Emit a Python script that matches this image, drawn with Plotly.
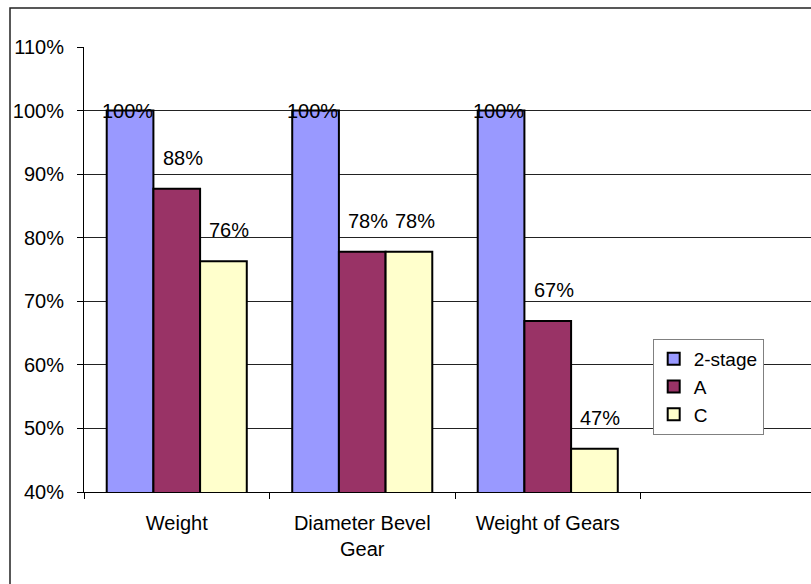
import plotly.graph_objects as go

categories = ["Weight", "Diameter Bevel<br>Gear", "Weight of Gears"]
series_names = ["2-stage", "A", "C"]
two_stage = [1.00, 1.00, 1.00]
a_vals = [0.877, 0.778, 0.669]
c_vals = [0.763, 0.778, 0.468]
colors = ["#9999FF", "#993366", "#FFFFCC"]
y_ticks = [0.4, 0.5, 0.6, 0.7, 0.8, 0.9, 1.0, 1.1]

all_series = [two_stage, a_vals, c_vals]

W, H = 811, 584
ml, mt, mb = 84, 47, 92
plot_w = W - ml
cat_px = 185.5
bargap = 0.245
font = "Liberation Sans, Arial, sans-serif"

fig = go.Figure()
for name, vals, col in zip(series_names, all_series, colors):
    fig.add_trace(go.Bar(
        x=categories, y=vals, name=name,
        marker=dict(color=col, line=dict(color="black", width=2)),
        hoverinfo="skip",
    ))

bw = (1 - bargap) / 3
annotations = []
for j, vals in enumerate(all_series):
    for i, v in enumerate(vals):
        top = v >= 0.995
        annotations.append(dict(
            x=i + (j - 1) * bw, y=v, xref="x", yref="y",
            text=f"{round(v * 100)}%", showarrow=False,
            yanchor="middle", xanchor="center",
            yshift=0 if top else 31, xshift=-3 if top else 6,
            font=dict(family=font, size=20, color="black"),
        ))

plot_h = H - mt - mb
shapes = [dict(
    type="path", xref="paper", yref="paper",
    path=f"M {(10 - ml) / plot_w},-0.5 L {(10 - ml) / plot_w},{(plot_h + mt - 8) / plot_h} L 1.2,{(plot_h + mt - 8) / plot_h}",
    line=dict(color="#222222", width=1.5),
)]

fig.update_layout(
    width=W, height=H,
    margin=dict(l=ml, r=0, t=mt, b=mb, pad=0),
    paper_bgcolor="white", plot_bgcolor="white",
    barmode="group", bargap=bargap, bargroupgap=0,
    font=dict(family=font, size=20, color="black"),
    showlegend=True,
    legend=dict(
        x=(652.7 - ml) / plot_w, y=(H - mb - 339) / plot_h,
        xanchor="left", yanchor="top",
        bordercolor="#808080", borderwidth=1, bgcolor="white",
        font=dict(family=font, size=19, color="black"),
        tracegroupgap=0, itemwidth=30,
    ),
    xaxis=dict(
        type="category", range=[-0.5, -0.5 + plot_w / cat_px],
        showline=True, linecolor="black", linewidth=1,
        ticks="outside", tickson="boundaries", ticklen=6, tickcolor="black",
        showgrid=False, ticklabelstandoff=13,
        tickfont=dict(family=font, size=20, color="black"),
    ),
    yaxis=dict(
        range=[0.4, 1.1], tickvals=y_ticks, tickformat=".0%",
        showline=True, linecolor="black", linewidth=1,
        ticks="outside", ticklen=6, tickcolor="black",
        showgrid=True, gridcolor="#222222", gridwidth=1,
        zeroline=False, ticklabelstandoff=9,
        tickfont=dict(family=font, size=20, color="black"),
    ),
    annotations=annotations,
    shapes=shapes,
)

fig.write_html("out.html")
